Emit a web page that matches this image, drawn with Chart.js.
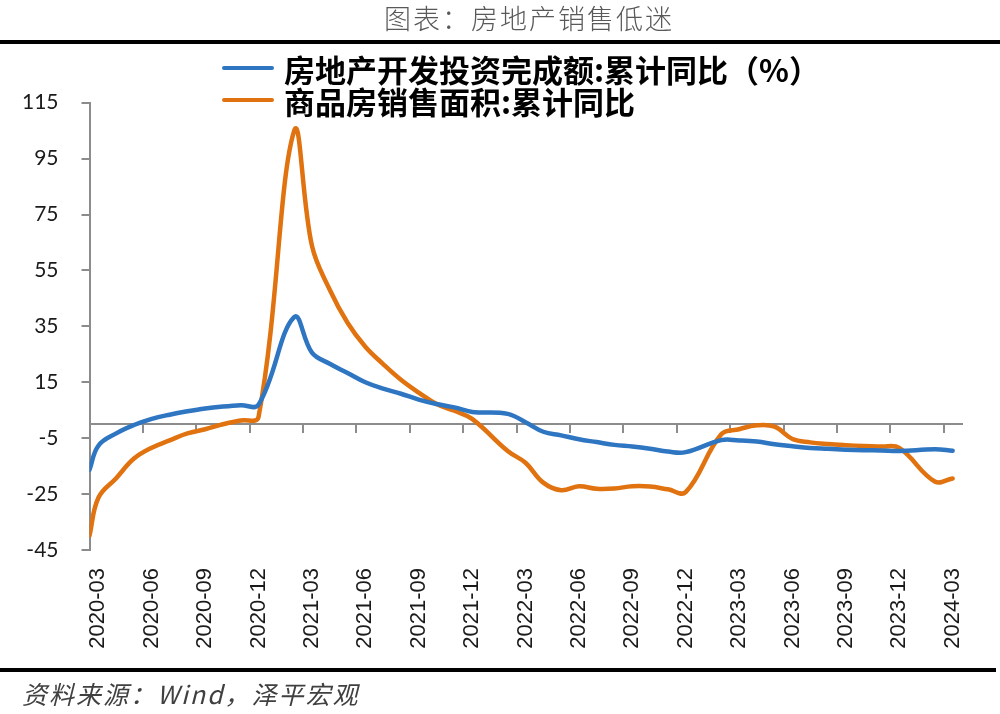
<!DOCTYPE html>
<html>
<head>
<meta charset="utf-8">
<script src="https://cdn.jsdelivr.net/npm/chart.js@4.4.1/dist/chart.umd.min.js"></script>
<style>
html,body{margin:0;padding:0;background:#fff;}
#wrap{position:relative;width:1000px;height:714px;overflow:hidden;background:#fff;}
canvas{position:absolute;left:0;top:0;}
#title{position:absolute;left:384px;top:0;line-height:36px;font-family:"Noto Sans CJK SC";font-weight:300;font-size:27px;letter-spacing:2px;color:#595959;white-space:nowrap;}
.rule{position:absolute;left:0;height:4px;background:#000;}
#legend{position:absolute;left:222px;top:52px;font-family:"Noto Sans CJK SC";font-weight:700;font-size:31px;color:#000;}
.li{display:flex;align-items:center;height:32px;white-space:nowrap;}
.sw{display:inline-block;width:52px;height:4px;margin-right:10px;border-radius:2px;}
#src{position:absolute;left:22px;top:678px;line-height:30px;font-family:"Noto Sans CJK SC";font-style:italic;font-size:25px;letter-spacing:2px;color:#404040;white-space:nowrap;}
</style>
</head>
<body>
<div id="wrap">
<canvas id="c" width="1000" height="714"></canvas>
<div id="title">图表：房地产销售低迷</div>
<div class="rule" style="top:40px;width:1000px;"></div>
<div id="legend"></div>
<div class="rule" style="top:668px;width:996px;"></div>
<div id="src">资料来源：Wind，泽平宏观</div>
</div>
<script>
// ---- data ----
const months = [
  '2020-02','2020-03','2020-04','2020-05','2020-06','2020-07','2020-08','2020-09','2020-10','2020-11','2020-12',
  '2021-02','2021-03','2021-04','2021-05','2021-06','2021-07','2021-08','2021-09','2021-10','2021-11','2021-12',
  '2022-02','2022-03','2022-04','2022-05','2022-06','2022-07','2022-08','2022-09','2022-10','2022-11','2022-12',
  '2023-02','2023-03','2023-04','2023-05','2023-06','2023-07','2023-08','2023-09','2023-10','2023-11','2023-12',
  '2024-02','2024-03'
];
const investYoY = [
  -16.3, -7.7, -3.3, -0.3, 1.9, 3.4, 4.6, 5.6, 6.3, 6.8, 7.0,
  38.3, 25.6, 21.6, 18.3, 15.0, 12.7, 10.9, 8.8, 7.2, 6.0, 4.4,
  3.7, 0.7, -2.7, -4.0, -5.4, -6.4, -7.4, -8.0, -8.8, -9.8, -10.0,
  -5.7, -5.8, -6.2, -7.2, -7.9, -8.5, -8.8, -9.1, -9.3, -9.4, -9.6,
  -9.0, -9.5
];
const salesYoY = [
  -39.9, -26.3, -19.3, -12.3, -8.4, -5.8, -3.3, -1.8, 0.0, 1.3, 2.6,
  104.9, 63.8, 48.1, 36.3, 27.7, 21.5, 15.9, 11.3, 7.2, 4.8, 1.9,
  -9.6, -13.8, -20.9, -23.6, -22.2, -23.1, -23.0, -22.2, -22.3, -23.3, -24.3,
  -3.6, -1.8, -0.4, -0.9, -5.3, -6.5, -7.1, -7.5, -7.8, -8.0, -8.5,
  -20.5, -19.4
];
const tickLabels = [
  '2020-03','2020-06','2020-09','2020-12','2021-03','2021-06','2021-09','2021-12',
  '2022-03','2022-06','2022-09','2022-12','2023-03','2023-06','2023-09','2023-12','2024-03'
];
const seriesNames = ['房地产开发投资完成额:累计同比（%）', '商品房销售面积:累计同比'];
const seriesColors = ['#2e75c2', '#e0720f'];
const yMin = -45, yMax = 115, yStep = 20;

// ---- helpers ----
function monthIndex(s){ const p = s.split('-').map(Number); return (p[0]-2020)*12 + (p[1]-3); }
const tickPos = tickLabels.map(monthIndex);
const boundaryPos = tickPos.slice(1).map(v => v - 0.5);
const xMin = tickPos[0] - 0.5, xMax = tickPos[tickPos.length-1] + 0.5;
// a month that falls before the axis start is drawn at the axis edge (as in the source chart)
const xOf = m => Math.max(monthIndex(m), xMin);

const htmlLegend = {
  id: 'htmlLegend',
  afterUpdate(chart){
    const box = document.getElementById('legend');
    box.innerHTML = '';
    chart.data.datasets.forEach(ds => {
      const row = document.createElement('div'); row.className = 'li';
      const sw = document.createElement('span'); sw.className = 'sw'; sw.style.background = ds.borderColor;
      const t = document.createElement('span'); t.textContent = ds.label;
      row.append(sw, t); box.append(row);
    });
  }
};

const axisGray = '#8c8c8c';
new Chart(document.getElementById('c'), {
  type: 'line',
  data: {
    datasets: [investYoY, salesYoY].map((vals, k) => ({
      label: seriesNames[k],
      data: months.map((m, i) => ({x: xOf(m), y: vals[i]})),
      borderColor: seriesColors[k],
      backgroundColor: seriesColors[k],
      borderWidth: 4.5,
      pointRadius: 0,
      tension: 0.4,
      clip: 0,
      borderCapStyle: 'round',
      borderJoinStyle: 'round'
    }))
  },
  options: {
    responsive: false,
    animation: false,
    devicePixelRatio: 1,
    layout: { padding: { left: 0, right: 38.5, top: 102.7, bottom: 0 } },
    plugins: { legend: { display: false }, title: { display: false }, tooltip: { enabled: false } },
    scales: {
      x: {
        type: 'linear', min: xMin, max: xMax, position: 'bottom',
        afterBuildTicks: s => { s.ticks = tickPos.map(v => ({value: v})); },
        afterFit: s => { s.height = 164; },
        border: { display: false },
        grid: { display: false, drawTicks: false, tickLength: 0 },
        ticks: {
          autoSkip: false, minRotation: 90, maxRotation: 90, padding: 18,
          color: '#1a1a1a', font: { family: 'Liberation Sans', size: 22 },
          callback: v => { const i = tickPos.indexOf(v); return i >= 0 ? tickLabels[i] : ''; }
        }
      },
      x2: {
        type: 'linear', axis: 'x', min: xMin, max: xMax, position: { y: 0 },
        afterBuildTicks: s => { s.ticks = boundaryPos.map(v => ({value: v})); },
        border: { display: true, color: axisGray, width: 2 },
        grid: { display: true, drawOnChartArea: false, drawTicks: true, tickLength: 8, color: axisGray, lineWidth: 2 },
        ticks: { display: false }
      },
      y: {
        type: 'linear', min: yMin, max: yMax, position: 'left',
        afterFit: s => { s.width = 89.5; },
        border: { display: true, color: axisGray, width: 2 },
        grid: { drawOnChartArea: false, drawTicks: true, tickLength: 8, color: axisGray, lineWidth: 2 },
        ticks: { stepSize: yStep, padding: 23, color: '#1a1a1a', font: { family: 'Lato', size: 21 } }
      }
    }
  },
  plugins: [htmlLegend]
});
</script>
</body>
</html>
